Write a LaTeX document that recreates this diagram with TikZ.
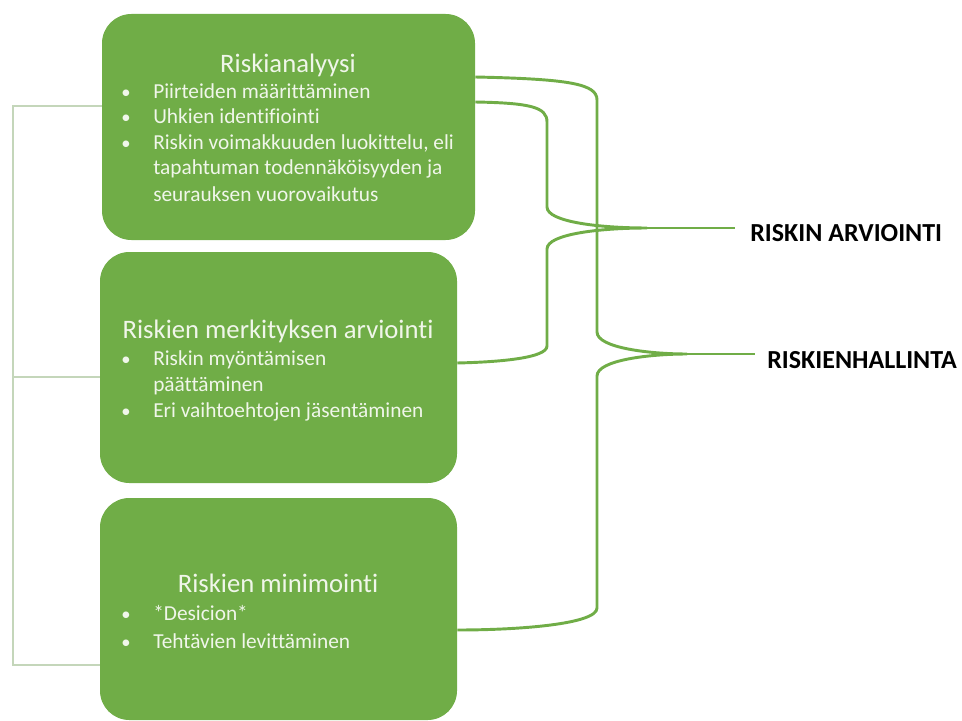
\documentclass[tikz,border=0pt]{standalone}
\usepackage{fontspec}
\setmainfont{Carlito}[Ligatures={NoCommon}]
\definecolor{boxgreen}{RGB}{112,173,71}
\definecolor{boxtext}{RGB}{240,246,234}
\definecolor{thinline}{RGB}{196,214,186}
\begin{document}
\begin{tikzpicture}[x=0.75pt,y=-0.75pt,
  gbox/.style={draw=none,fill=boxgreen,rounded corners=22pt,inner sep=0pt},
  title/.style={text=boxtext,font=\fontsize{20pt}{24pt}\selectfont,inner sep=0pt,anchor=base},
  item/.style={text=boxtext,font=\fontsize{16pt}{19pt}\selectfont,inner sep=0pt,anchor=base west},
  bul/.style={text=boxtext,font=\fontsize{14pt}{19pt}\selectfont,inner sep=0pt,anchor=base},
  brace/.style={draw=boxgreen,line width=2.2pt},
  thin/.style={draw=thinline,line width=1.1pt},
  lbl/.style={font=\bfseries\fontsize{19.5pt}{22pt}\selectfont,inner sep=0pt,anchor=west}]
\useasboundingbox (0,0) rectangle (962,720);
% boxes
\node[gbox,minimum width=373*0.75pt,minimum height=226*0.75pt] (b1) at (288.5,127) {};
\node[gbox,minimum width=357*0.75pt,minimum height=231*0.75pt] (b2) at (278.5,367.5) {};
\node[gbox,minimum width=357*0.75pt,minimum height=222*0.75pt] (b3) at (278.5,609) {};
% box 1 text
\node[title] (t1) at (288,73) {Riskianalyysi};
\node[bul] (u1) at (126,99) {•};
\node[item] (i1) at (153,99) {Piirteiden määrittäminen};
\node[bul] (u2) at (126,124) {•};
\node[item] (i2) at (153,124) {Uhkien identifiointi};
\node[bul] (u3) at (126,150) {•};
\node[item] (i3) at (153,150) {Riskin voimakkuuden luokittelu, eli};
\node[item] (i4) at (153,175) {tapahtuman todennäköisyyden ja};
\node[item] (i5) at (153,201) {seurauksen vuorovaikutus};
% box 2 text
\node[title] (t2) at (278,338) {Riskien merkityksen arviointi};
\node[bul] (v1) at (126,365) {•};
\node[item] (j1) at (153,365) {Riskin myöntämisen};
\node[item] (j2) at (153,391) {päättäminen};
\node[bul] (v2) at (126,417) {•};
\node[item] (j3) at (153,417) {Eri vaihtoehtojen jäsentäminen};
% box 3 text
\node[title] (t3) at (278,592) {Riskien minimointi};
\node[bul] (w1) at (126,620) {•};
\node[item] (k1) at (153,620) {*Desicion*};
\node[bul] (w2) at (126,648) {•};
\node[item] (k2) at (153,648) {Tehtävien levittäminen};
% labels
\node[lbl] (ra) at (750,233) {RISKIN ARVIOINTI};
\node[lbl] (rh) at (767,360) {RISKIENHALLINTA};
\coordinate (tipA) at (647,228);
\coordinate (tipB) at (687,354);
\coordinate (endA) at (735,228);
\coordinate (endB) at (755,354);
% left thin connector
\draw[thin] (b1.west |- 0,106) -- (13,106) -- (13,665) -- (b3.west |- 0,665);
\draw[thin] (13,377) -- (b2.west |- 0,377);
% brace RISKIN ARVIOINTI
\draw[brace] (b1.east |- 0,102) .. controls (530,103) and (547,107) .. (547,122)
  -- (547,207) .. controls (547,222) and (600,228) .. (tipA)
  .. controls (600,228) and (547,234) .. (547,249)
  -- (547,346) .. controls (547,358) and (500,362) .. (b2.east |- 0,363);
\draw[brace] (tipA) -- (endA);
% brace RISKIENHALLINTA
\draw[brace] (b1.east |- 0,77) .. controls (570,79) and (597,84) .. (597,100)
  -- (597,332) .. controls (597,348) and (650,354) .. (tipB)
  .. controls (650,354) and (597,360) .. (597,376)
  -- (597,608) .. controls (597,624) and (520,630) .. (b3.east |- 0,630);
\draw[brace] (tipB) -- (endB);
\end{tikzpicture}
\end{document}
